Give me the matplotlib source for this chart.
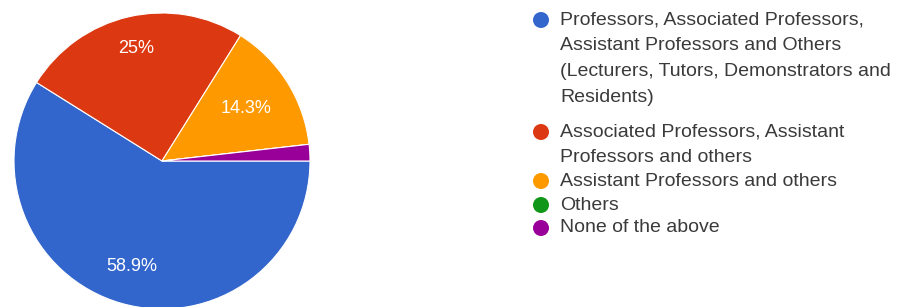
import matplotlib
matplotlib.use("Agg")
import numpy as np
import matplotlib.pyplot as plt
from matplotlib.patches import Circle

categories = [
    "Professors, Associated Professors,\nAssistant Professors and Others\n(Lecturers, Tutors, Demonstrators and\nResidents)",
    "Associated Professors, Assistant\nProfessors and others",
    "Assistant Professors and others",
    "Others",
    "None of the above",
]
values = [58.9, 25.0, 14.3, 0.0, 1.8]
colors = ["#3366CC", "#DC3912", "#FF9900", "#109618", "#990099"]

plt.rcParams['font.family'] = ['Liberation Sans', 'DejaVu Sans']

W, H = 900, 307
fig = plt.figure(figsize=(W / 100, H / 100), dpi=100)
fig.patch.set_facecolor("white")

cx, cy, r = 162, 161, 148
ax = fig.add_axes([(cx - r) / W, (H - cy - r) / H, 2 * r / W, 2 * r / H])

def fmt(p):
    return f"{p:.3g}%" if p >= 5 else ""

wedges, texts, autotexts = ax.pie(
    values, colors=colors, startangle=0, counterclock=False,
    radius=1.0, autopct=fmt, pctdistance=0.74,
    wedgeprops=dict(edgecolor="white", linewidth=0.8),
    textprops=dict(color="white", fontsize=13),
)
# per-label radial distances, like the reference
label_dist = [0.745, 0.78, 0.67, 0.7, 0.7]
for w, t, d in zip(wedges, autotexts, label_dist):
    ang = np.deg2rad((w.theta1 + w.theta2) / 2)
    t.set_position((d * np.cos(ang), d * np.sin(ang)))
    w.set_clip_on(False)
ax.set_xlim(-1, 1)
ax.set_ylim(-1, 1)
ax.axis("off")

# custom legend: marker aligned with first line of each label
line_y = [[20, 46, 72, 98], [132, 157], [181], [205], [228]]
mx, tx = 541, 560
for lab, col, ys in zip(categories, colors, line_y):
    fig.patches.append(Circle((mx, H - ys[0]), 8, transform=None,
                              facecolor=col, edgecolor="none"))
    for line, y in zip(lab.split("\n"), ys):
        fig.text(tx / W, (H - y) / H, line, fontsize=14, color="#3a3a3a",
                 ha="left", va="center")

fig.savefig("out.png", dpi=100, facecolor="white")
